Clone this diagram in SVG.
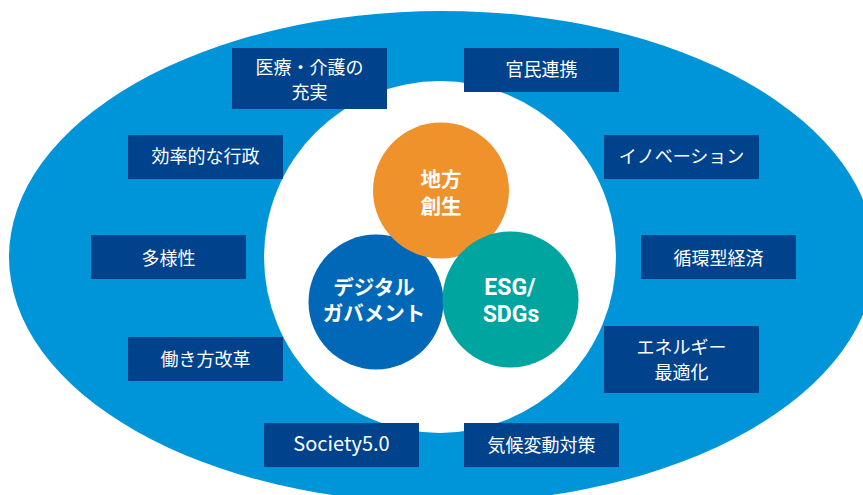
<svg xmlns="http://www.w3.org/2000/svg" width="863" height="495" viewBox="0 0 863 495">
<style>
.box{fill:#00438C}
.bt{fill:#fff;font-family:"Noto Sans CJK JP",sans-serif;font-size:18px;font-weight:400;text-anchor:middle}
.ct{fill:#fff;font-family:"Noto Sans CJK JP",sans-serif;font-size:20.5px;font-weight:700;text-anchor:middle}
.lt{fill:#fff;font-family:Roboto,"Noto Sans CJK JP",sans-serif;font-size:23px;font-weight:700;text-anchor:middle}
</style>
<rect width="863" height="495" fill="#fff"/>
<g id="background">
<ellipse cx="442" cy="257" rx="433" ry="246" fill="#0095D9"/>
<circle cx="440" cy="257" r="176" fill="#fff"/>
</g>
<g id="connectors"></g>
<g id="n-digital"><circle cx="376" cy="302" r="67.5" fill="#0068B7"/>
<text class="ct" x="374" y="294.5">デジタル<tspan x="374" dy="26.5">ガバメント</tspan></text></g>
<g id="n-chiho"><circle cx="441" cy="190.5" r="68" fill="#F0922B"/>
<text class="ct" x="441" y="186.5">地方<tspan x="441" dy="27">創生</tspan></text></g>
<g id="n-esg"><circle cx="510.5" cy="299.5" r="68" fill="#00A5A0"/>
<text class="lt" x="510" y="295">ESG/<tspan x="511" dy="26.5">SDGs</tspan></text></g>
<g id="n-iryo"><rect class="box" x="232" y="48" width="155" height="61"/><text class="bt" x="309.5" y="73.5">医療・介護の<tspan x="309.5" dy="25">充実</tspan></text></g>
<g id="n-kanmin"><rect class="box" x="464" y="48" width="155" height="44"/><text class="bt" x="541.5" y="76">官民連携</text></g>
<g id="n-koritsu"><rect class="box" x="128" y="135" width="155" height="44"/><text class="bt" x="205.5" y="163">効率的な行政</text></g>
<g id="n-innovation"><rect class="box" x="604" y="135" width="155" height="44"/><text class="bt" x="681.5" y="163">イノベーション</text></g>
<g id="n-tayosei"><rect class="box" x="91" y="235" width="155" height="44"/><text class="bt" x="168.5" y="264.5">多様性</text></g>
<g id="n-junkan"><rect class="box" x="641" y="235" width="155" height="44"/><text class="bt" x="718.5" y="264.5">循環型経済</text></g>
<g id="n-hataraki"><rect class="box" x="128" y="337" width="155" height="44"/><text class="bt" x="205.5" y="365.5">働き方改革</text></g>
<g id="n-energy"><rect class="box" x="604" y="326" width="155" height="67"/><text class="bt" x="681.5" y="354">エネルギー<tspan x="681.5" dy="25">最適化</tspan></text></g>
<g id="n-society"><rect class="box" x="264" y="423" width="155" height="44"/><text class="bt" x="341.5" y="450.5" style="font-size:20px">Society5.0</text></g>
<g id="n-kiko"><rect class="box" x="464" y="423" width="155" height="44"/><text class="bt" x="541.5" y="451.5">気候変動対策</text></g>
</svg>
